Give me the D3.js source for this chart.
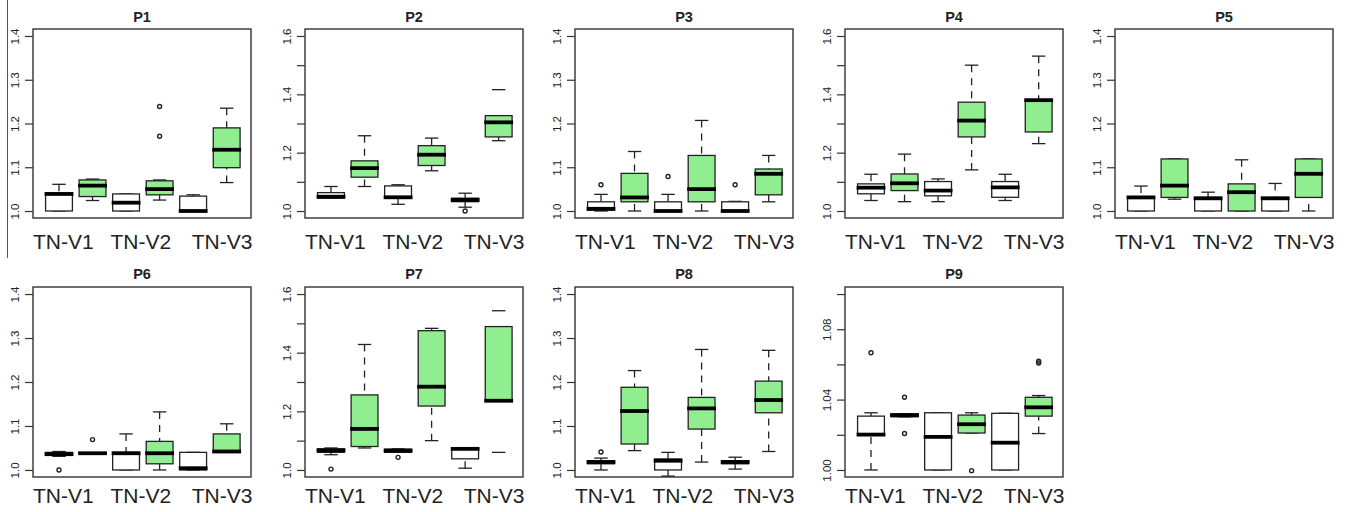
<!DOCTYPE html>
<html><head><meta charset="utf-8">
<script src="https://cdn.jsdelivr.net/npm/d3@7"></script>
<style>body{margin:0;background:#fff}svg{display:block}</style>
</head><body>
<script>
// ---------------- DATA ----------------
const panelNames = ["P1","P2","P3","P4","P5","P6","P7","P8","P9"];
const groupLabels = ["TN-V1","TN-V2","TN-V3"];
// box order within each panel: control, treated for each of the three groups
const boxKinds = ["control","treated","control","treated","control","treated"];

// y-axis definition per panel: [lowest tick, highest tick, tick step, label every n-th tick, decimals]
const yAxes = [
  [1.0,1.4,0.1,1,1],[1.0,1.6,0.1,2,1],[1.0,1.4,0.1,1,1],[1.0,1.6,0.1,2,1],[1.0,1.4,0.1,1,1],
  [1.0,1.4,0.1,1,1],[1.0,1.6,0.1,2,1],[1.0,1.4,0.1,1,1],[1.0,1.1,0.02,2,2]
];

// five-number summaries [lower whisker, Q1, median, Q3, upper whisker] for boxes 1..6
const p1Stats = [[1.0,1.0,1.039,1.039,1.061],[1.024,1.033,1.058,1.071,1.073],[1.0,1.0,1.019,1.039,1.039],
                 [1.025,1.037,1.050,1.069,1.071],[1.0,1.0,1.0,1.034,1.037],[1.065,1.099,1.140,1.190,1.235]];
const p2Stats = [[1.044,1.044,1.049,1.063,1.084],[1.084,1.116,1.147,1.172,1.258],[1.023,1.047,1.047,1.086,1.090],
                 [1.138,1.156,1.193,1.224,1.250],[1.013,1.032,1.038,1.044,1.061],[1.241,1.254,1.304,1.327,1.416]];
const p3Stats = [[1.0,1.002,1.005,1.021,1.038],[1.0,1.021,1.031,1.086,1.136],[1.0,1.0,1.0,1.021,1.038],
                 [1.0,1.021,1.050,1.127,1.207],[1.0,1.0,1.0,1.021,1.022],[1.021,1.037,1.085,1.096,1.127]];
const p4Stats = [[1.036,1.059,1.080,1.093,1.126],[1.032,1.070,1.095,1.127,1.195],[1.032,1.052,1.070,1.101,1.110],
                 [1.141,1.254,1.310,1.373,1.500],[1.036,1.047,1.081,1.101,1.126],[1.231,1.271,1.380,1.380,1.531]];
const p5Stats = [[1.0,1.0,1.031,1.033,1.057],[1.027,1.031,1.058,1.119,1.119],[1.0,1.0,1.029,1.031,1.043],
                 [1.0,1.0,1.043,1.062,1.117],[1.0,1.0,1.029,1.031,1.063],[1.0,1.031,1.085,1.119,1.119]];
const p6Stats = [[1.031,1.033,1.036,1.040,1.042],[1.038,1.038,1.038,1.038,1.038],[1.0,1.0,1.038,1.040,1.082],
                 [1.0,1.014,1.038,1.065,1.132],[1.0,1.0,1.004,1.040,1.040],[1.040,1.040,1.042,1.082,1.105]];
const p7Stats = [[1.052,1.060,1.067,1.072,1.075],[1.075,1.080,1.140,1.256,1.428],[1.060,1.060,1.066,1.071,1.072],
                 [1.100,1.218,1.284,1.475,1.483],[1.006,1.038,1.072,1.072,1.075],[1.060,1.236,1.236,1.489,1.543]];
const p8Stats = [[1.0,1.014,1.018,1.021,1.027],[1.044,1.059,1.134,1.188,1.226],[0.986,1.0,1.021,1.025,1.040],
                 [1.018,1.093,1.140,1.165,1.274],[1.002,1.014,1.018,1.021,1.029],[1.042,1.130,1.159,1.202,1.272]];
const p9Stats = [[1.0,1.0201,1.0201,1.0306,1.0325],[1.0302,1.0302,1.0312,1.0318,1.0320],[1.0,1.0,1.0188,1.0325,1.0325],
                 [1.021,1.021,1.026,1.0312,1.0325],[1.0,1.0,1.0155,1.0322,1.0322],[1.0207,1.0306,1.0356,1.0413,1.0423]];

// outliers: [box number, value]
const p1Out = [[4,1.239],[4,1.171]];
const p2Out = [[5,1.0]];
const p3Out = [[1,1.06],[3,1.079],[5,1.06]];
const p4Out = [];
const p5Out = [];
const p6Out = [[1,1.0],[2,1.069]];
const p7Out = [[1,1.003],[3,1.043]];
const p8Out = [[1,1.041]];
const p9Out = [[1,1.0666],[2,1.0413],[2,1.0207],[4,0.9996],[6,1.0618],[6,1.0608]];

// whisker ends drawn only as a cap (stem not visible): [panel, box, end]
const capOnly = [[2,6,"hi"],[7,6,"hi"],[7,6,"lo"]];

const allStats = [p1Stats,p2Stats,p3Stats,p4Stats,p5Stats,p6Stats,p7Stats,p8Stats,p9Stats];
const allOut = [p1Out,p2Out,p3Out,p4Out,p5Out,p6Out,p7Out,p8Out,p9Out];

// ---------------- LAYOUT / STYLE ----------------
const W = 1352, H = 512;
const colLeft = [33, 305, 575, 845, 1115], plotW = 218;
const rowTop = [29, 287], rowBot = [218, 477];
const titleBase = [22, 279], labelBase = [249, 503];
const labelAt = [1.13, 3.44, 5.86];
const xDomain = [0.225, 6.725];
const boxWex = 0.8;
const fills = {control: "#ffffff", treated: "#90ee90"};
const ink = "#222";
const font = "'Liberation Sans', Arial, Helvetica, sans-serif";

const svg = d3.select("body").append("svg").attr("width", W).attr("height", H)
  .style("font-family", font);

// thin left border line present in the reference
svg.append("line").attr("x1", 7.5).attr("x2", 7.5).attr("y1", 0).attr("y2", 258)
  .attr("stroke", "#555").attr("stroke-width", 1);

allStats.forEach((stats, i) => {
  const r = Math.floor(i / 5), c = i % 5;
  const x0 = colLeft[c], y0 = rowTop[r], y1 = rowBot[r];
  const [lo, hi, step, every, dec] = yAxes[i];
  const pad = (hi - lo) * 0.04;
  const y = d3.scaleLinear().domain([lo - pad, hi + pad]).range([y1, y0]);
  const x = d3.scaleLinear().domain(xDomain).range([x0, x0 + plotW]);
  const g = svg.append("g");

  // y axis
  const nT = Math.round((hi - lo) / step);
  const ticks = d3.range(0, nT + 1).map(k => +(lo + k * step).toFixed(4));
  const axis = d3.axisLeft(y).tickValues(ticks).tickSize(8).tickSizeOuter(0)
    .tickFormat((d, k) => k % every === 0 ? d.toFixed(dec) : "");
  const ag = g.append("g").attr("transform", `translate(${x0},0)`).call(axis);
  ag.attr("font-family", font).attr("font-size", 11.5);
  ag.select(".domain").remove();
  ag.selectAll(".tick line").attr("stroke", "#333").attr("stroke-width", 1.2);
  ag.selectAll(".tick text").attr("transform", "rotate(-90)").attr("x", 0).attr("y", -14.5)
    .attr("dy", null).attr("text-anchor", "middle").attr("fill", ink);

  // frame
  g.append("rect").attr("x", x0).attr("y", y0).attr("width", plotW).attr("height", y1 - y0)
    .attr("fill", "none").attr("stroke", "#333").attr("stroke-width", 1.4);

  // title
  g.append("text").attr("x", x0 + plotW / 2).attr("y", titleBase[r]).attr("text-anchor", "middle")
    .attr("font-weight", "bold").attr("font-size", 14.5).attr("fill", ink).text(panelNames[i]);

  // x labels
  g.selectAll(".xl").data(groupLabels).enter().append("text")
    .attr("x", (d, k) => x(labelAt[k])).attr("y", labelBase[r]).attr("text-anchor", "middle")
    .attr("font-size", 21).attr("fill", ink).text(d => d);

  // boxes
  stats.forEach((s, j) => {
    const pos = j + 1;
    const [wlo, q1, med, q3, whi] = s;
    const xl = x(pos - boxWex / 2), xr = x(pos + boxWex / 2), xc = x(pos);
    const cl = x(pos - boxWex / 4), cr = x(pos + boxWex / 4);
    const hideHi = capOnly.some(d => d[0] === i + 1 && d[1] === pos && d[2] === "hi");
    const hideLo = capOnly.some(d => d[0] === i + 1 && d[1] === pos && d[2] === "lo");
    const bg = g.append("g");
    if (!hideHi && whi > q3)
      bg.append("line").attr("x1", xc).attr("x2", xc).attr("y1", y(whi)).attr("y2", y(q3))
        .attr("stroke", "#222").attr("stroke-width", 1.3).attr("stroke-dasharray", "7,6");
    if (!hideLo && wlo < q1)
      bg.append("line").attr("x1", xc).attr("x2", xc).attr("y1", y(wlo)).attr("y2", y(q1))
        .attr("stroke", "#222").attr("stroke-width", 1.3).attr("stroke-dasharray", "7,6");
    [wlo, whi].forEach(v => bg.append("line").attr("x1", cl).attr("x2", cr).attr("y1", y(v)).attr("y2", y(v))
      .attr("stroke", "#222").attr("stroke-width", 1.3));
    bg.append("rect").attr("x", xl).attr("y", y(q3)).attr("width", xr - xl).attr("height", Math.max(0, y(q1) - y(q3)))
      .attr("fill", fills[boxKinds[j]]).attr("stroke", "#222").attr("stroke-width", 1.3);
    bg.append("line").attr("x1", xl - 1).attr("x2", xr + 1).attr("y1", y(med)).attr("y2", y(med))
      .attr("stroke", "#000").attr("stroke-width", 3.8);
  });

  // outliers
  g.selectAll(".out").data(allOut[i]).enter().append("circle")
    .attr("cx", d => x(d[0])).attr("cy", d => y(d[1])).attr("r", 2)
    .attr("fill", "none").attr("stroke", "#222").attr("stroke-width", 1.4);
});
</script>
</body></html>
